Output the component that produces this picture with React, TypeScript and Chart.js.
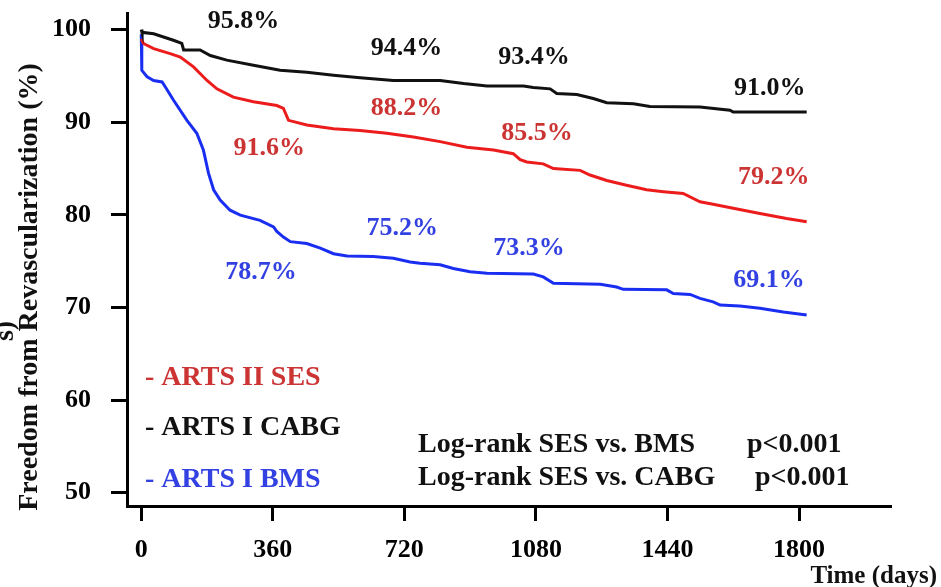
import React, { useEffect, useRef } from 'react';
import { Chart, registerables } from 'chart.js';

Chart.register(...registerables);

// ---------- data ----------
const xTicks = [0, 360, 720, 1080, 1440, 1800];
const yTicks = [50, 60, 70, 80, 90, 100];

const seriesNames = ['ARTS II SES', 'ARTS I CABG', 'ARTS I BMS'];

const cabgDays = [0, 2, 34, 88, 111, 116, 161, 189, 234, 307, 380, 453, 526, 599, 690, 818, 882, 946, 1046, 1073, 1119, 1137, 1192, 1237, 1274, 1347, 1392, 1529, 1611, 1620, 1821];
const cabgValues = [100, 99.7, 99.55, 98.85, 98.5, 97.8, 97.8, 97.2, 96.7, 96.15, 95.6, 95.4, 95.07, 94.8, 94.5, 94.5, 94.17, 93.9, 93.9, 93.74, 93.6, 93.1, 92.99, 92.56, 92.1, 92.0, 91.7, 91.65, 91.3, 91.1, 91.1];

const sesDays = [0, 6, 34, 79, 107, 143, 180, 207, 252, 307, 371, 389, 403, 453, 526, 599, 672, 745, 818, 891, 964, 1018, 1037, 1055, 1100, 1128, 1201, 1228, 1274, 1328, 1383, 1429, 1483, 1529, 1565, 1620, 1693, 1766, 1821];
const sesValues = [99.0, 98.5, 97.95, 97.4, 97.04, 95.97, 94.5, 93.6, 92.7, 92.2, 91.8, 91.5, 90.2, 89.7, 89.3, 89.1, 88.8, 88.4, 87.9, 87.3, 87.0, 86.6, 85.95, 85.7, 85.5, 85.0, 84.8, 84.3, 83.7, 83.2, 82.7, 82.5, 82.3, 81.4, 81.15, 80.7, 80.15, 79.6, 79.25];

const bmsDays = [0, 1, 2, 16, 34, 57, 66, 88, 125, 152, 170, 184, 198, 216, 243, 271, 325, 362, 371, 389, 408, 453, 490, 526, 563, 635, 690, 736, 763, 818, 854, 900, 946, 1073, 1100, 1128, 1256, 1301, 1319, 1438, 1456, 1502, 1529, 1565, 1584, 1638, 1693, 1757, 1821];
const bmsValues = [99.5, 97.4, 95.6, 94.9, 94.5, 94.35, 93.8, 92.4, 90.2, 88.8, 87.0, 84.5, 82.7, 81.6, 80.5, 79.97, 79.4, 78.7, 78.2, 77.6, 77.1, 76.9, 76.4, 75.8, 75.55, 75.5, 75.3, 74.9, 74.76, 74.6, 74.2, 73.85, 73.7, 73.6, 73.3, 72.6, 72.5, 72.2, 71.95, 71.9, 71.5, 71.4, 70.97, 70.6, 70.26, 70.15, 69.9, 69.5, 69.18];

// milestone percentage labels (text, anchor day, anchor value)
const cabgMilestones = ['95.8%', '94.4%', '93.4%', '91.0%'];
const cabgMilestoneDays = [280, 726, 1075, 1720];
const cabgMilestoneValues = [100.9, 98.0, 97.0, 93.67];

const sesMilestones = ['91.6%', '88.2%', '85.5%', '79.2%'];
const sesMilestoneDays = [350, 726, 1083, 1731];
const sesMilestoneValues = [87.2, 91.5, 88.8, 84.07];

const bmsMilestones = ['78.7%', '75.2%', '73.3%', '69.1%'];
const bmsMilestoneDays = [328, 714, 1061, 1718];
const bmsMilestoneValues = [73.81, 78.56, 76.4, 72.95];

const logRankLabels = ['Log-rank SES vs. BMS', 'Log-rank SES vs. CABG'];
const logRankP = ['p<0.001', 'p<0.001'];

const yTitle = 'Freedom from Revascularization (%)';
const xTitle = 'Time (days)';

// ---------- styles ----------
const FONT = '"Liberation Serif", "Times New Roman", serif';
const BLACK = '#111111';
const RED_LINE = '#ec1c1c';
const BLUE_LINE = '#1a2ef2';
const RED_TEXT = '#cc3434';
const BLUE_TEXT = '#3341e2';
const X_MIN = -39;
const X_MAX = 2049;
const Y_MIN = 48.56;
const Y_MAX = 101.79;

const toPoints = (d: number[], v: number[]) => d.map((x, i) => ({ x, y: v[i] }));

const textPlugin = {
  id: 'textPlugin',
  afterDraw(chart: any) {
    const ctx = chart.ctx as CanvasRenderingContext2D;
    const xs = chart.scales.x;
    const ys = chart.scales.y;
    ctx.save();
    ctx.textBaseline = 'middle';

    // milestone percentages
    ctx.font = `bold 26px ${FONT}`;
    ctx.textAlign = 'center';
    const groups: [string[], number[], number[], string][] = [
      [cabgMilestones, cabgMilestoneDays, cabgMilestoneValues, BLACK],
      [sesMilestones, sesMilestoneDays, sesMilestoneValues, RED_TEXT],
      [bmsMilestones, bmsMilestoneDays, bmsMilestoneValues, BLUE_TEXT],
    ];
    groups.forEach(([labels, days, vals, color]) => {
      ctx.fillStyle = color;
      labels.forEach((t, i) => {
        ctx.fillText(t, xs.getPixelForValue(days[i]), ys.getPixelForValue(vals[i]));
      });
    });

    // legend texts
    ctx.font = `bold 28px ${FONT}`;
    ctx.textAlign = 'left';
    const legendColors = [RED_TEXT, BLACK, BLUE_TEXT];
    const legendY = [378, 428, 480];
    seriesNames.forEach((n, i) => {
      ctx.fillStyle = legendColors[i];
      ctx.fillText('- ' + n, 145, legendY[i]);
    });

    // log-rank
    ctx.fillStyle = BLACK;
    const lrY = [445, 478];
    const pX = [747, 755];
    logRankLabels.forEach((t, i) => {
      ctx.fillText(t, 418, lrY[i]);
      ctx.fillText(logRankP[i], pX[i], lrY[i]);
    });

    // x title
    ctx.font = `bold 25px ${FONT}`;
    ctx.textAlign = 'right';
    ctx.fillText(xTitle, 937, 577);

    // y title (rotated)
    ctx.save();
    ctx.font = `bold 28px ${FONT}`;
    ctx.translate(30, 287);
    ctx.rotate(-Math.PI / 2);
    ctx.textAlign = 'center';
    ctx.fillText(yTitle, 0, 0);
    ctx.restore();

    // clipped fragment of another label at the left edge
    ctx.save();
    ctx.font = `bold 28px ${FONT}`;
    ctx.translate(6, 331);
    ctx.rotate(-Math.PI / 2);
    ctx.textAlign = 'center';
    ctx.fillText('s)', 0, 0);
    ctx.restore();

    ctx.restore();
  },
};

export default function App() {
  const ref = useRef<HTMLCanvasElement | null>(null);

  useEffect(() => {
    if (!ref.current) return;
    const tickFont = { family: FONT, size: 26, weight: 'bold' as const };
    const chart = new Chart(ref.current, {
      type: 'line',
      data: {
        datasets: [
          { label: seriesNames[1], data: toPoints(cabgDays, cabgValues), borderColor: BLACK, borderWidth: 3, pointRadius: 0, tension: 0, fill: false },
          { label: seriesNames[0], data: toPoints(sesDays, sesValues), borderColor: RED_LINE, borderWidth: 3, pointRadius: 0, tension: 0, fill: false },
          { label: seriesNames[2], data: toPoints(bmsDays, bmsValues), borderColor: BLUE_LINE, borderWidth: 3, pointRadius: 0, tension: 0, fill: false },
        ],
      },
      options: {
        responsive: false,
        animation: false,
        events: [],
        layout: { padding: { top: 13, right: 51, left: 0, bottom: 0 } },
        plugins: { legend: { display: false }, tooltip: { enabled: false }, title: { display: false } },
        scales: {
          x: {
            type: 'linear',
            min: X_MIN,
            max: X_MAX,
            bounds: 'data',
            afterBuildTicks: (s: any) => { s.ticks = xTicks.map((v) => ({ value: v })); s.min = X_MIN; s.max = X_MAX; },
            afterFit: (s: any) => { s.height = 81; s.paddingLeft = 0; s.paddingRight = 0; },
            ticks: { font: tickFont, color: '#000', padding: 14, maxRotation: 0, callback: (v: any) => String(v) },
            grid: { display: true, drawOnChartArea: false, drawTicks: true, tickLength: 15, lineWidth: 3, color: '#000' },
            border: { display: true, color: '#000', width: 3 },
          },
          y: {
            type: 'linear',
            min: Y_MIN,
            max: Y_MAX,
            bounds: 'data',
            grace: 0,
            afterBuildTicks: (s: any) => { s.ticks = yTicks.map((v) => ({ value: v })); s.min = Y_MIN; s.max = Y_MAX; },
            afterFit: (s: any) => { s.width = 127; s.paddingTop = 0; s.paddingBottom = 0; },
            ticks: { font: tickFont, color: '#000', padding: 20, callback: (v: any) => String(v) },
            grid: { display: true, drawOnChartArea: false, drawTicks: true, tickLength: 16, lineWidth: 3, color: '#000' },
            border: { display: true, color: '#000', width: 3 },
          },
        },
      },
      plugins: [textPlugin],
    });
    return () => chart.destroy();
  }, []);

  return (
    <div style={{ position: 'fixed', left: 0, top: 0, width: 941, height: 587, background: '#fff' }}>
      <canvas ref={ref} width={941} height={587} />
    </div>
  );
}
